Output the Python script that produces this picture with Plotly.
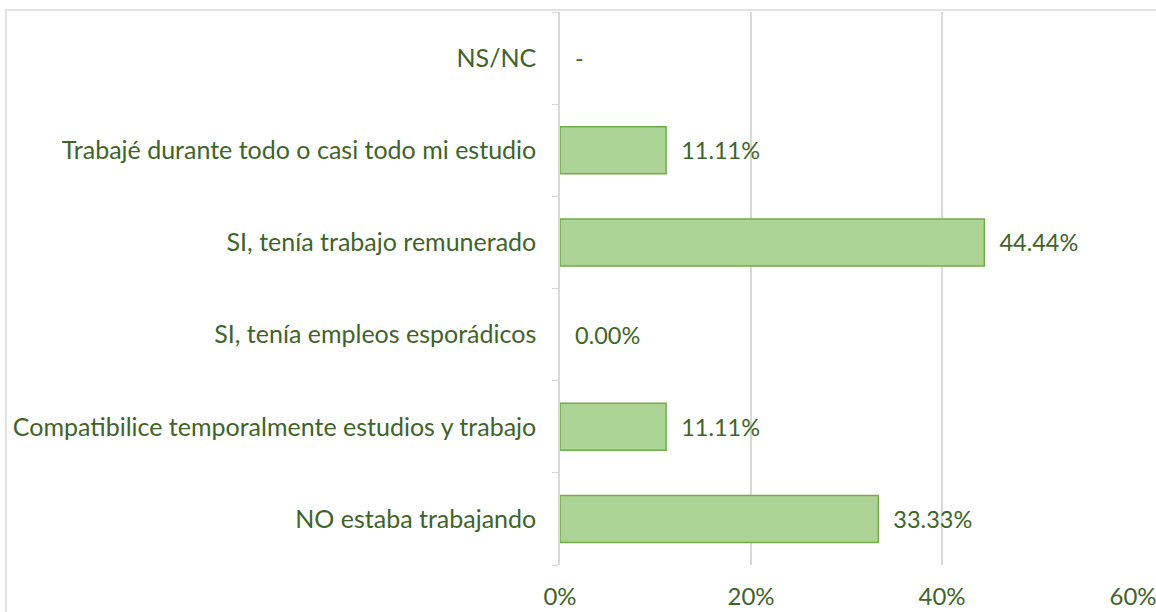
import plotly.graph_objects as go

categories = [
    "NO estaba trabajando",
    "Compatibilice temporalmente estudios y trabajo",
    "SI, tenía empleos esporádicos",
    "SI, tenía trabajo remunerado",
    "Trabajé durante todo o casi todo mi estudio",
    "NS/NC",
]
values = [33.33, 11.11, 0.0, 44.44, 11.11, 0.0]
value_labels = ["33.33%", "11.11%", "0.00%", "44.44%", "11.11%", "-"]
x_ticks = [0, 20, 40, 60]
x_tick_labels = ["0%", "20%", "40%", "60%"]

text_color = "#3f6428"
font_family = "Lato, 'Open Sans', sans-serif"

fig = go.Figure()
fig.add_trace(go.Bar(
    y=categories,
    x=values,
    orientation="h",
    text=value_labels,
    texttemplate="\u00a0\u00a0%{text}",
    textposition="outside",
    textfont=dict(size=23.5, color=text_color, family=font_family),
    cliponaxis=False,
    marker=dict(
        color="#aed397",
        line=dict(color="#70ad47", width=[1.5 if v > 0 else 0 for v in values]),
    ),
    hoverinfo="skip",
))

L, R, T, B = 560, 23, 12, 47
W, H = 1156, 612
pw, ph = W - L - R, H - T - B

fig.update_layout(
    width=W, height=H,
    margin=dict(l=L, r=R, t=T, b=B),
    plot_bgcolor="white", paper_bgcolor="white",
    bargap=0.49,
    showlegend=False,
    font=dict(family=font_family, size=24, color=text_color),
    xaxis=dict(
        range=[0, 60],
        tickvals=x_ticks, ticktext=x_tick_labels,
        showgrid=True, gridcolor="#d9d9d9", gridwidth=1.5,
        zeroline=False, showline=False,
        ticks="", ticklabelstandoff=15,
        ticklabeloverflow="allow",
        automargin=False,
        tickfont=dict(size=24, color=text_color),
        fixedrange=True,
    ),
    yaxis=dict(
        categoryorder="array", categoryarray=categories,
        showline=True, linecolor="#d9d9d9", linewidth=1.5,
        ticks="outside", tickson="boundaries", ticklen=6, tickcolor="#d9d9d9",
        ticklabelstandoff=17,
        automargin=False,
        showgrid=False,
        tickfont=dict(size=25, color=text_color),
        fixedrange=True,
    ),
    shapes=[dict(
        type="rect", xref="paper", yref="paper",
        x0=(6 - L) / pw, x1=1.2,
        y0=-0.3, y1=1 + (T - 10) / ph,
        line=dict(color="#d9d9d9", width=1.5),
        fillcolor="rgba(0,0,0,0)", layer="below",
    )],
)

fig.write_html(
    "out.html",
    config={"displayModeBar": False},
    post_script="document.body.style.margin='0';",
)
